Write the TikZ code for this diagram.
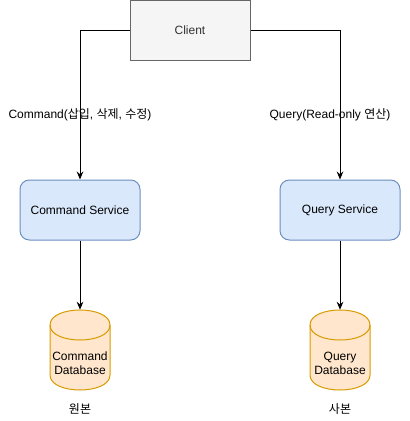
\documentclass[tikz,border=0pt]{standalone}
\usepackage{fontspec}
\setmainfont{Liberation Sans}
\newfontfamily\kr{Noto Sans CJK KR}
\usetikzlibrary{arrows.meta}
\definecolor{clientfill}{HTML}{F5F5F5}
\definecolor{clientline}{HTML}{666666}
\definecolor{clienttext}{HTML}{333333}
\definecolor{svcfill}{HTML}{DAE8FC}
\definecolor{svcline}{HTML}{6C8EBF}
\definecolor{dbfill}{HTML}{FFE6CC}
\definecolor{dbline}{HTML}{D79B00}
% cylinder outline round a centre (x,y), in px
\newcommand{\dbshape}[2]{%
	\filldraw[draw=dbline, fill=dbfill, line width=0.75pt] (#1-30,#2-25) .. controls (#1-30,#2-45) and (#1+30,#2-45) .. (#1+30,#2-25) -- (#1+30,#2+25) .. controls (#1+30,#2+45) and (#1-30,#2+45) .. (#1-30,#2+25) -- cycle;
	\draw[dbline, line width=0.75pt] (#1-30,#2-25) .. controls (#1-30,#2-5) and (#1+30,#2-5) .. (#1+30,#2-25);}
\tikzset{
	clientbox/.style={draw=clientline, fill=clientfill, text=clienttext, line width=0.75pt, minimum width=90pt, minimum height=45pt},
	svcbox/.style={draw=svcline, fill=svcfill, line width=0.75pt, rounded corners=7pt, minimum width=90pt, minimum height=45pt},
	dbbox/.style={minimum width=45pt, minimum height=79.5pt, inner sep=0pt, align=center},
	conn/.style={line width=0.75pt, -{Stealth[length=6pt, width=5pt, inset=2pt]}}
}
\begin{document}
\begin{tikzpicture}[x=0.75pt, y=-0.75pt, font=\fontsize{9pt}{10.5pt}\selectfont]
	\useasboundingbox (0,0) rectangle (410,421);
	\node[clientbox] (client) at (190,30) {Client};
	\node[svcbox] (cmdsvc) at (80,210) {Command Service};
	\node[svcbox] (qrysvc) at (340,210) {Query Service};
	\dbshape{80}{350}
	\dbshape{340}{350}
	\node[dbbox] (cmddb) at (80,363) {Command\\Database};
	\node[dbbox] (qrydb) at (340,363) {Query\\Database};
	\node (cmdnote) at (80,409) {\kr 원본};
	\node (qrynote) at (340,409) {\kr 사본};
	\draw[conn] (client.west) -| (cmdsvc.north) node[pos=0.783]{Command({\kr 삽입}, {\kr 삭제}, {\kr 수정})};
	\draw[conn] (client.east) -| (qrysvc.north) node[pos=0.783, xshift=-7.5pt]{Query(Read-only {\kr 연산})};
	\draw[conn] (cmdsvc) -- (cmddb);
	\draw[conn] (qrysvc) -- (qrydb);
\end{tikzpicture}
\end{document}
